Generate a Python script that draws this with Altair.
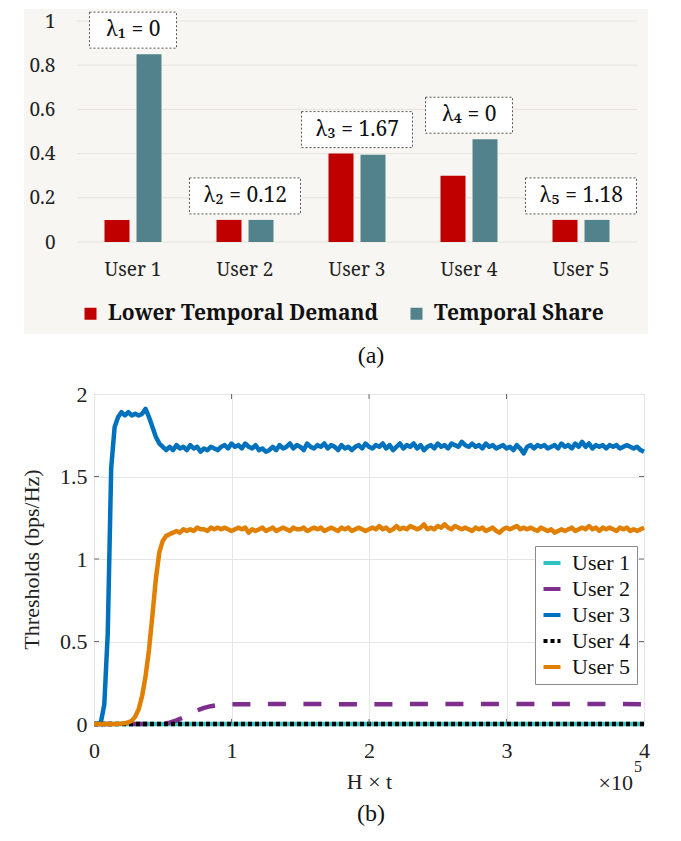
import altair as alt
import pandas as pd

# ---------------- (a) bar chart data ----------------
users = ["User 1", "User 2", "User 3", "User 4", "User 5"]
series_names = ["Lower Temporal Demand", "Temporal Share"]
lower_demand = [0.10, 0.10, 0.40, 0.30, 0.10]
temporal_share = [0.85, 0.10, 0.395, 0.465, 0.10]
lambda_labels = ["λ₁ = 0", "λ₂ = 0.12", "λ₃ = 1.67", "λ₄ = 0", "λ₅ = 1.18"]
bar_ticks = [0, 0.2, 0.4, 0.6, 0.8, 1.0]

# ---------------- (b) threshold curves data ----------------
t_grid = [round(i * 0.025, 3) for i in range(161)]  # H x t in units of 1e5
user3 = [
    0.00, 0.00, 0.01, 0.12, 0.55, 1.55, 1.80, 1.86, 1.89, 1.87,
    1.89, 1.87, 1.88, 1.87, 1.88, 1.91, 1.86, 1.80, 1.74, 1.70,
    1.68, 1.66, 1.68, 1.66, 1.69, 1.67, 1.68, 1.66, 1.69, 1.67,
    1.68, 1.65, 1.67, 1.66, 1.68, 1.67, 1.66, 1.68, 1.69, 1.67,
    1.70, 1.68, 1.69, 1.67, 1.70, 1.68, 1.67, 1.69, 1.66, 1.67,
    1.65, 1.66, 1.68, 1.66, 1.69, 1.67, 1.68, 1.70, 1.67, 1.69,
    1.68, 1.66, 1.70, 1.68, 1.67, 1.69, 1.68, 1.70, 1.67, 1.69,
    1.68, 1.66, 1.69, 1.67, 1.68, 1.66, 1.68, 1.69, 1.67, 1.70,
    1.68, 1.67, 1.69, 1.68, 1.70, 1.67, 1.69, 1.66, 1.68, 1.70,
    1.67, 1.69, 1.68, 1.70, 1.67, 1.69, 1.66, 1.68, 1.69, 1.67,
    1.70, 1.68, 1.69, 1.67, 1.70, 1.69, 1.68, 1.71, 1.69, 1.68,
    1.70, 1.68, 1.69, 1.67, 1.70, 1.68, 1.69, 1.67, 1.68, 1.69,
    1.67, 1.68, 1.66, 1.69, 1.67, 1.64, 1.68, 1.69, 1.67, 1.69,
    1.68, 1.69, 1.67, 1.68, 1.69, 1.67, 1.70, 1.68, 1.69, 1.67,
    1.70, 1.68, 1.71, 1.68, 1.70, 1.67, 1.69, 1.68, 1.69, 1.67,
    1.69, 1.68, 1.69, 1.67, 1.68, 1.69, 1.68, 1.67, 1.68, 1.66,
    1.65,
]
user5 = [
    0.00, 0.00, 0.00, 0.00, 0.00, 0.00, 0.00, 0.001, 0.002, 0.005,
    0.01, 0.02, 0.045, 0.09, 0.17, 0.29, 0.45, 0.66, 0.88, 1.04,
    1.11, 1.14, 1.15, 1.16, 1.17, 1.16, 1.18, 1.17, 1.18, 1.17,
    1.19, 1.18, 1.18, 1.17, 1.19, 1.18, 1.19, 1.18, 1.19, 1.18,
    1.17, 1.18, 1.19, 1.18, 1.19, 1.16, 1.18, 1.17, 1.18, 1.19,
    1.17, 1.18, 1.19, 1.17, 1.18, 1.19, 1.18, 1.17, 1.19, 1.18,
    1.18, 1.19, 1.17, 1.18, 1.19, 1.18, 1.19, 1.17, 1.18, 1.19,
    1.18, 1.17, 1.19, 1.18, 1.19, 1.17, 1.18, 1.19, 1.18, 1.17,
    1.18, 1.19, 1.18, 1.20, 1.18, 1.19, 1.17, 1.18, 1.20, 1.18,
    1.19, 1.18, 1.20, 1.19, 1.18, 1.19, 1.21, 1.18, 1.19, 1.18,
    1.20, 1.19, 1.21, 1.19, 1.18, 1.20, 1.19, 1.18, 1.19, 1.18,
    1.17, 1.19, 1.18, 1.19, 1.17, 1.18, 1.19, 1.17, 1.16, 1.18,
    1.19, 1.18, 1.19, 1.20, 1.18, 1.19, 1.18, 1.19, 1.18, 1.17,
    1.19, 1.18, 1.17, 1.18, 1.16, 1.17, 1.18, 1.17, 1.18, 1.19,
    1.17, 1.18, 1.19, 1.18, 1.20, 1.18, 1.19, 1.17, 1.19, 1.18,
    1.19, 1.18, 1.17, 1.19, 1.18, 1.19, 1.17, 1.18, 1.17, 1.18,
    1.19,
]
user2_t = [0.0, 0.5, 0.55, 0.6, 0.65, 0.7, 0.75, 0.8, 0.85, 0.9, 1.0, 1.5, 2.0, 2.5, 3.0, 3.5, 4.0]
user2 = [0.0, 0.0, 0.008, 0.022, 0.04, 0.062, 0.082, 0.098, 0.108, 0.115, 0.12, 0.121, 0.12, 0.121, 0.121, 0.122, 0.12]
flat_t = [0.0, 4.0]
user1 = [0.0, 0.0]
user4 = [0.0, 0.0]
x_ticks_b = [0, 1, 2, 3, 4]
y_ticks_b = [0, 0.5, 1, 1.5, 2]
inner_x_ticks = [1, 2, 3]
inner_y_ticks = [0.5, 1, 1.5]

FONT_A = "Noto Serif"
FONT_B = "Liberation Serif"

# ---------------- tables ----------------
bars_df = pd.DataFrame({
    "user": users * 2,
    "series": [series_names[0]] * 5 + [series_names[1]] * 5,
    "value": lower_demand + temporal_share,
})
lab_df = pd.DataFrame({
    "user": users,
    "label": lambda_labels,
    "top": [max(a, b) for a, b in zip(lower_demand, temporal_share)],
})
grid_df = pd.DataFrame({"g": bar_ticks})
one = pd.DataFrame({"k": [0]})

rows = []
for name, ts, vs in [("User 1", flat_t, user1), ("User 2", user2_t, user2),
                     ("User 3", t_grid, user3), ("User 4", flat_t, user4),
                     ("User 5", t_grid, user5)]:
    for t, v in zip(ts, vs):
        rows.append({"user": name, "t": t, "v": v})
line_df = pd.DataFrame(rows)
xt_df = pd.DataFrame({"xt": inner_x_ticks})
yt_df = pd.DataFrame({"yt": inner_y_ticks})

# ---------------- (a) ----------------
xaxis_a = alt.Axis(title=None, domain=False, ticks=False, grid=False, labelAngle=0,
                   labelFont=FONT_A, labelFontSize=19, labelColor="#222",
                   labelPadding=18, zindex=1)
yaxis_a = alt.Axis(title=None, domain=False, ticks=False, grid=False, values=bar_ticks,
                   format="~g", labelFont=FONT_A, labelFontSize=19, labelColor="#222",
                   labelPadding=39, zindex=1)
xs_a = alt.Scale(domain=users, paddingInner=0.4286, paddingOuter=0.0625)
ys_a = alt.Scale(domain=[0, 1], nice=False)
X_a = alt.X("user:N", scale=xs_a, axis=xaxis_a, sort=users)

bg = alt.Chart(one).mark_rect(color="#F7F6F2").encode(
    x=alt.value(-70), x2=alt.value(554), y=alt.value(-12), y2=alt.value(313))
grid_a = alt.Chart(grid_df).mark_rule(color="#E6E4DF", strokeWidth=1).encode(
    y=alt.Y("g:Q", scale=ys_a, axis=yaxis_a), x=alt.value(-17), x2=alt.value(543))
bars = alt.Chart(bars_df).mark_bar().encode(
    x=X_a,
    xOffset=alt.XOffset("series:N", sort=series_names,
                        scale=alt.Scale(domain=series_names, paddingInner=0.21875,
                                        paddingOuter=0.109375)),
    y=alt.Y("value:Q", scale=ys_a, axis=yaxis_a),
    color=alt.Color("series:N", scale=alt.Scale(domain=series_names,
                                                range=["#C00000", "#52838D"]),
                    legend=alt.Legend(title=None, orient="none", legendX=-14, legendY=282,
                                      direction="horizontal", symbolType="square",
                                      symbolSize=144, symbolStrokeWidth=0,
                                      labelFont=FONT_A, labelFontWeight="bold",
                                      labelFontSize=21, labelColor="#111",
                                      labelLimit=500,
                                      labelOffset=7, columnPadding=27, padding=0)),
)
box_style = dict(fill="white", stroke="#555555", strokeWidth=1, strokeDash=[2, 2],
                 yOffset=-42, y2Offset=-6)
box_short = alt.Chart(lab_df).transform_filter("length(datum.label) < 8").mark_bar(
    width=87, **box_style).encode(
    x=X_a, y=alt.Y("top:Q", scale=ys_a, axis=yaxis_a), y2="top:Q")
box_long = alt.Chart(lab_df).transform_filter("length(datum.label) >= 8").mark_bar(
    width=111, **box_style).encode(
    x=X_a, y=alt.Y("top:Q", scale=ys_a, axis=yaxis_a), y2="top:Q")
box_text = alt.Chart(lab_df).mark_text(font=FONT_A, fontSize=21, dy=-24, color="#111",
                                       baseline="middle").encode(
    x=X_a, y=alt.Y("top:Q", scale=ys_a, axis=yaxis_a), text="label:N")
cap_a = alt.Chart(one).mark_text(text="(a)", font=FONT_B, fontSize=24, color="#111",
                                 baseline="middle").encode(
    x=alt.value(277), y=alt.value(335))

top = alt.layer(bg, grid_a, bars, box_short, box_long, box_text, cap_a).properties(
    width=526, height=221, view=alt.ViewBackground(stroke="transparent"))

# ---------------- (b) ----------------
xs_b = alt.Scale(domain=[0, 4], nice=False)
ys_b = alt.Scale(domain=[0, 2], nice=False)
xaxis_b = alt.Axis(title="H × t", titleFont=FONT_B, titleFontSize=22,
                   titleFontWeight="normal", titleColor="#222", titlePadding=10,
                   labelFont=FONT_B, labelFontSize=22, labelColor="#222",
                   labelPadding=16, values=x_ticks_b, format="~g", ticks=False,
                   domain=False, grid=True, gridColor="#E6E6E6", labelFlush=False,
                   labelOverlap=False)
yaxis_b = alt.Axis(title="Thresholds (bps/Hz)", titleFont=FONT_B, titleFontSize=22,
                   titleFontWeight="normal", titleColor="#222", titlePadding=16,
                   labelFont=FONT_B, labelFontSize=22, labelColor="#222",
                   labelPadding=7, values=y_ticks_b, format="~g", ticks=False,
                   domain=False, grid=True, gridColor="#E6E6E6", labelFlush=False,
                   labelOverlap=False)
line_legend = alt.Legend(title=None, orient="none", legendX=441, legendY=152,
                         fillColor="white", strokeColor="#8A8A8A", padding=6,
                         symbolType="stroke", symbolSize=289, symbolStrokeWidth=4,
                         labelFont=FONT_B, labelFontSize=22, labelColor="#111",
                         labelOffset=9, rowPadding=4)
lines = alt.Chart(line_df).mark_line(strokeWidth=4.5, strokeCap="butt",
                                     strokeJoin="round").encode(
    x=alt.X("t:Q", scale=xs_b, axis=xaxis_b),
    y=alt.Y("v:Q", scale=ys_b, axis=yaxis_b),
    color=alt.Color("user:N", scale=alt.Scale(domain=users,
                    range=["#2CC3C3", "#7E2F8E", "#0072BD", "#000000", "#E07F00"]),
                    legend=line_legend),
    strokeDash=alt.StrokeDash("user:N", scale=alt.Scale(domain=users,
                              range=[[1, 0], [18, 17.5], [1, 0], [4, 3], [1, 0]]),
                              legend=line_legend),
)
tick_col = "#6E6E6E"
t_left = alt.Chart(yt_df).mark_rule(color=tick_col).encode(
    y=alt.Y("yt:Q", scale=ys_b, axis=yaxis_b), x=alt.value(0), x2=alt.value(5))
t_right = alt.Chart(yt_df).mark_rule(color=tick_col).encode(
    y=alt.Y("yt:Q", scale=ys_b, axis=yaxis_b), x=alt.value(545), x2=alt.value(550))
t_bottom = alt.Chart(xt_df).mark_rule(color=tick_col).encode(
    x=alt.X("xt:Q", scale=xs_b, axis=xaxis_b), y=alt.value(325), y2=alt.value(330))
t_top = alt.Chart(xt_df).mark_rule(color=tick_col).encode(
    x=alt.X("xt:Q", scale=xs_b, axis=xaxis_b), y=alt.value(0), y2=alt.value(5))
x10 = alt.Chart(one).mark_text(text="×10", font=FONT_B, fontSize=22, color="#222",
                               align="right", baseline="middle").encode(
    x=alt.value(539), y=alt.value(389))
x5 = alt.Chart(one).mark_text(text="5", font=FONT_B, fontSize=16, color="#222",
                              align="left", baseline="middle").encode(
    x=alt.value(540), y=alt.value(373))
cap_b = alt.Chart(one).mark_text(text="(b)", font=FONT_B, fontSize=24, color="#111",
                                 baseline="middle").encode(
    x=alt.value(277), y=alt.value(420))

bottom = alt.layer(lines, t_left, t_right, t_bottom, t_top, x10, x5, cap_b).properties(
    width=550, height=330, view=alt.ViewBackground(stroke="#707070", strokeWidth=1))

chart = alt.vconcat(top, bottom, spacing=13).properties(
    padding={"left": 12, "top": 0, "right": 0, "bottom": 0},
    background="white",
).resolve_scale(color="independent", strokeDash="independent")

chart.save("out.html", embed_options={"renderer": "svg", "actions": False})
